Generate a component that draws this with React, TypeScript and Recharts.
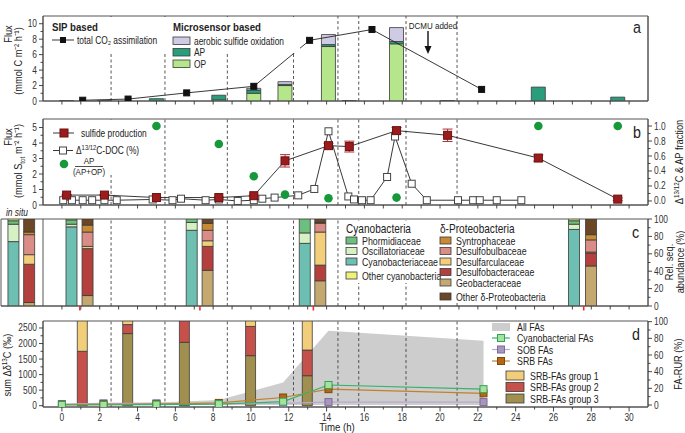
import React from 'react';
import {
  ComposedChart,
  Bar,
  Line,
  Area,
  XAxis,
  YAxis,
  ReferenceLine,
  ReferenceArea,
  ErrorBar,
} from 'recharts';

const FONT = "'Liberation Sans Narrow', 'Liberation Sans', Arial, sans-serif";
const NARROW = 0.84; // the figure uses a condensed face; squeeze text horizontally
const INK = '#333';
const FRAME = '#555';
const DASH = '#444';

const W = 685;
const H = 433;
const AXIS_L = 43;
const AXIS_R = 37;
const X_MIN = -1;
const X_MAX = 31;
const PX_PER_H = (W - AXIS_L - AXIS_R) / (X_MAX - X_MIN);
// panel c has an extra "in situ" strip left of the time axis
const C_X_MIN = X_MIN - (AXIS_L - 1) / PX_PER_H;

const HOURS = Array.from({ length: 31 }, (_, i) => i);

// light regime along the top
const LIGHT_EDGES = [-1, 2.6, 5.45, 8.75, 12.25, 14.6, 15.7, 18.2, 20.9, 31];
const LIGHT_LABELS = ['dark', 'I=7', 'I=19', 'I=89', 'I=315', '', 'I=315', '', 'I=315 +DCMU'];
const LIGHT_FILLS = ['#000', '#5e5e5e', '#a8a8a8', '#dcdcdc', '#fff', '#000', '#fff', '#000', '#fff'];
const LIGHT_TEXT = ['#fff', '#e6e6e6', '#222', '#222', '#000', '#fff', '#000', '#fff', '#000'];
const SWITCHES = LIGHT_EDGES.slice(1, -1);

// panel a - microsensor fluxes (mmol C m-2 h-1)
const MS_TIME = [0.25, 2.25, 5.0, 8.3, 10.15, 11.8, 14.1, 15.2, 17.7, 20.4, 25.2, 29.4];
const OP = [0.06, 0.06, 0, 0.15, 1.0, 2.0, 7.05, 0.06, 7.4, 0.06, 0, 0];
const AP = [0, 0, 0.3, 0.6, 0.42, 0.15, 0.25, 0, 0.3, 0, 1.8, 0.5];
const ASO = [0, 0, 0, 0, 0.22, 0.35, 1.3, 0, 1.8, 0, 0, 0];
// panel a - SIP based
const CO2_TIME = [1.1, 3.5, 6.6, 10.15, 13.1, 16.4, 22.2];
const CO2 = [0.1, 0.25, 1.05, 1.9, 7.85, 9.25, 1.5];

// panel b
const SULFIDE = [0.64, 0.64, 0.48, 0.48, 0.6, 2.85, 3.83, 3.77, 4.8, 4.5, 3.03, 0.38];
const SULFIDE_ERR = [0.04, 0.04, 0.03, 0.03, 0.04, 0.4, 0.15, 0.35, 0.2, 0.4, 0.2, 0.08];
const APF_TIME = [5.0, 8.3, 10.15, 11.8, 14.1, 17.7, 25.2, 29.4];
const APF = [1.0, 0.76, 0.33, 0.085, 0.036, 0.045, 1.0, 1.0];
const DOC_TIME = [
  0.07, 0.53, 1.1, 1.6, 2.25, 2.9, 4.8, 5.85, 6.3, 7.6, 8.3, 9.3, 10.15, 10.6, 11.25, 12.5,
  13.35, 14.1, 15.15, 15.45, 15.87, 16.33, 17.2, 17.62, 18.5, 19.3, 20.95, 21.75, 22.1, 23.0, 24.3,
];
const DOC = [
  0.01, 0.01, 0.01, 0.01, 0.01, 0.01, 0.02, 0.01, 0.03, 0.01, 0.02, 0.0, 0.01, 0.03, 0.045, 0.075,
  0.16, 0.93, 0.06, 0.02, 0.01, 0.01, 0.32, 0.86, 0.23, 0.01, 0.01, 0.01, 0.01, 0.01, 0.01,
];

// panel c - relative sequence abundance (%)
const IN_SITU = [-2.55, -1.72];
const CYANO_TIME = [IN_SITU[0], 0.52, 6.88, 12.86, 27.1];
const DELTA_TIME = [IN_SITU[1], 1.37, 7.72, 13.68, 28.0];
const CYANOBACTERIACEAE = [74, 91, 87, 72, 88];
const OSCILLATORIACEAE = [20, 3, 9, 12, 6];
const PHORMIDIACEAE = [4, 5, 4, 16, 4];
const OTHER_CYANO = [2, 1, 0, 0, 2];
const GEOBACTERACEAE = [4, 12, 41, 29, 46];
const DESULFOBACTERACEAE = [44, 54, 27.5, 18, 15];
const DESULFARCULACEAE = [11, 2.5, 6.5, 38, 1];
const DESULFOBULBACEAE = [23, 16.5, 12, 10, 14];
const SYNTROPHACEAE = [3, 8, 8, 1, 6];
const OTHER_DELTA = [15, 7, 5, 4, 18];
const SAMPLING_MARKS = [0.95, 7.3, 13.3, 27.6];

// panel d
const SIP_TIME = [1.1, 3.5, 6.5, 10.0, 13.0];
const SRB_G1 = [1500, 200, 0, 200, 1000];
const SRB_G2 = [1750, 290, 800, 940, 825];
const SRB_G3 = [0, 2320, 2040, 1610, 965];
const FA_TIME = [0, 2.2, 5.0, 8.3, 11.7, 14.1, 22.3];
const ALL_FA = [1, 2, 3, 6, 27, 89, 77];
const CYANO_FA = [0, 0, 0.5, 1, 4, 24, 19];
const SOB_FA = [1, 2, 2, 1.5, 2, 3.5, 3.5];
const SRB_FA = [0.5, 0.8, 1, 2.5, 9, 19, 14];

const COL = {
  op: '#b6e68c',
  ap: '#2a9e7c',
  aso: '#cfcbe4',
  sulfide: '#9b1c1c',
  apf: '#17993b',
  phorm: '#6cbf7c',
  osc: '#d6f1c4',
  cyb: '#6dbfb2',
  otherCy: '#eef27c',
  syn: '#c98a35',
  dbulb: '#d98d86',
  darc: '#f3cf7c',
  dbact: '#b4403e',
  geo: '#c4a870',
  otherD: '#6b4727',
  g1: '#f2cd7a',
  g2: '#c5514a',
  g3: '#a08f4f',
  allFa: '#cdcdcd',
  cyFa: '#35b36b',
  sobFa: '#b8a8cd',
  srbFa: '#c47f2e',
};

type Row = { t: number; [k: string]: number | undefined };
function merge(series: { key: string; t: number[]; v: number[] }[]): Row[] {
  const map = new Map<number, Row>();
  series.forEach(({ key, t, v }) =>
    t.forEach((time, i) => {
      const row = map.get(time) ?? { t: time };
      row[key] = v[i];
      map.set(time, row);
    }),
  );
  return [...map.values()].sort((p, q) => p.t - q.t);
}

const rowsA = merge([
  { key: 'op', t: MS_TIME, v: OP },
  { key: 'ap', t: MS_TIME, v: AP },
  { key: 'aso', t: MS_TIME, v: ASO },
  { key: 'co2', t: CO2_TIME, v: CO2 },
]);
const rowsB = merge([
  { key: 'sulfide', t: MS_TIME, v: SULFIDE },
  { key: 'sErr', t: MS_TIME, v: SULFIDE_ERR },
  { key: 'apf', t: APF_TIME, v: APF },
  { key: 'doc', t: DOC_TIME, v: DOC },
]);
const rowsC = merge([
  { key: 'cyb', t: CYANO_TIME, v: CYANOBACTERIACEAE },
  { key: 'osc', t: CYANO_TIME, v: OSCILLATORIACEAE },
  { key: 'phorm', t: CYANO_TIME, v: PHORMIDIACEAE },
  { key: 'otherCy', t: CYANO_TIME, v: OTHER_CYANO },
  { key: 'geo', t: DELTA_TIME, v: GEOBACTERACEAE },
  { key: 'dbact', t: DELTA_TIME, v: DESULFOBACTERACEAE },
  { key: 'darc', t: DELTA_TIME, v: DESULFARCULACEAE },
  { key: 'dbulb', t: DELTA_TIME, v: DESULFOBULBACEAE },
  { key: 'syn', t: DELTA_TIME, v: SYNTROPHACEAE },
  { key: 'otherD', t: DELTA_TIME, v: OTHER_DELTA },
]);
const rowsD = merge([
  { key: 'g3', t: SIP_TIME, v: SRB_G3 },
  { key: 'g2', t: SIP_TIME, v: SRB_G2 },
  { key: 'g1', t: SIP_TIME, v: SRB_G1 },
  { key: 'allFa', t: FA_TIME, v: ALL_FA },
  { key: 'cyFa', t: FA_TIME, v: CYANO_FA },
  { key: 'sobFa', t: FA_TIME, v: SOB_FA },
  { key: 'srbFa', t: FA_TIME, v: SRB_FA },
]);
const rowsTop = LIGHT_EDGES.map((t) => ({ t }));

// layout
const TOPBAR = { top: 1, h: 15 };
const PA = { top: 16, h: 85 };
const PB = { top: 119, h: 86 };
const PC = { top: 219, h: 87 };
const PD = { top: 321, h: 86 };
const PAD = 8;

const A_DOM: [number, number] = [0, 11];
const B_LDOM: [number, number] = [0, 5.55];
const B_RDOM: [number, number] = [-0.054, 1.094];
const C_DOM: [number, number] = [0, 100];
const D_LDOM: [number, number] = [-42, 2725];
const D_RDOM: [number, number] = [-2.4, 100.8];

// condensed text: squeezed around its anchor point, optionally rotated
function NT({
  x, y, size = 10, anchor = 'start', rotate = 0, weight, italic, fill = '#222', children,
}: {
  x: number; y: number; size?: number; anchor?: 'start' | 'middle' | 'end'; rotate?: number;
  weight?: string; italic?: boolean; fill?: string; children: React.ReactNode;
}) {
  return (
    <text
      transform={`translate(${x} ${y}) rotate(${rotate}) scale(${NARROW} 1)`}
      textAnchor={anchor}
      fontSize={size}
      fontWeight={weight}
      fontStyle={italic ? 'italic' : undefined}
      fontFamily={FONT}
      fill={fill}
    >
      {children}
    </text>
  );
}

const xTick = (labelled: boolean, marks: number[] = []) => (p: any) => {
  const v = p.payload.value;
  const red = marks.includes(v);
  const major = v % 2 === 0;
  const len = red ? 4.5 : labelled ? (major ? 4.5 : 2.5) : 3.5;
  return (
    <g>
      <line x1={p.x} x2={p.x} y1={p.y} y2={p.y + len} stroke={red ? '#e3322b' : INK} strokeWidth={red ? 1.6 : 0.9} />
      {labelled && major && !red && (
        <NT x={p.x} y={p.y + 14} anchor="middle" fill={INK}>
          {v}
        </NT>
      )}
    </g>
  );
};

const yTick = (side: 'left' | 'right', isMajor: (v: number) => boolean, fmt: (v: number) => string) => (p: any) => {
  const v = p.payload.value;
  const major = isMajor(v);
  const dir = side === 'left' ? -1 : 1;
  return (
    <g>
      <line x1={p.x} x2={p.x + dir * (major ? 4 : 2.5)} y1={p.y} y2={p.y} stroke={INK} strokeWidth={0.9} />
      {major && (
        <NT x={p.x + dir * 6} y={p.y + 3.5} anchor={side === 'left' ? 'end' : 'start'} fill={INK}>
          {fmt(v)}
        </NT>
      )}
    </g>
  );
};

const square = (size: number, fill: string, stroke: string) => (p: any) => {
  if (p.cx == null || p.cy == null || p.value == null) return null;
  return (
    <rect
      key={`sq-${p.index}`}
      x={p.cx - size / 2}
      y={p.cy - size / 2}
      width={size}
      height={size}
      fill={fill}
      stroke={stroke}
      strokeWidth={1}
    />
  );
};

const circle = (r: number, fill: string) => (p: any) => {
  if (p.cx == null || p.cy == null || p.value == null) return null;
  return <circle key={`c-${p.index}`} cx={p.cx} cy={p.cy} r={r} fill={fill} />;
};

const dashed = SWITCHES.map((s) => (
  <ReferenceLine key={`sw-${s}`} x={s} stroke={DASH} strokeDasharray="3 2.5" strokeWidth={0.9} />
));

const box = (x0: number, dom: [number, number]) => (
  <ReferenceArea x1={x0} x2={X_MAX} y1={dom[0]} y2={dom[1]} fill="none" stroke={FRAME} strokeWidth={1} />
);

const barStroke = { stroke: '#3a3a3a', strokeWidth: 0.8 };

function TopBar() {
  return (
    <div style={{ position: 'absolute', left: 0, top: 0 }}>
      <ComposedChart width={W} height={TOPBAR.top + TOPBAR.h + 1} data={rowsTop} margin={{ top: TOPBAR.top, right: AXIS_R, bottom: 1, left: AXIS_L }}>
        <XAxis type="number" dataKey="t" domain={[X_MIN, X_MAX]} allowDataOverflow hide />
        <YAxis domain={[0, 1]} hide />
        {LIGHT_LABELS.map((lab, i) => (
          <ReferenceArea
            key={`l-${i}`}
            x1={LIGHT_EDGES[i]}
            x2={LIGHT_EDGES[i + 1]}
            y1={0}
            y2={1}
            fill={LIGHT_FILLS[i]}
            fillOpacity={1}
            stroke="#000"
            strokeWidth={1}
            label={{ value: lab, position: 'center', fill: LIGHT_TEXT[i], fontSize: 10, fontFamily: FONT }}
          />
        ))}
      </ComposedChart>
    </div>
  );
}

function PanelA() {
  return (
    <div style={{ position: 'absolute', left: 0, top: PA.top - PAD }}>
      <ComposedChart width={W} height={PAD + PA.h + 8} data={rowsA} margin={{ top: PAD, right: 0, bottom: 0, left: 0 }}>
        <XAxis type="number" dataKey="t" domain={[X_MIN, X_MAX]} allowDataOverflow ticks={HOURS} interval={0} tickSize={0} tickMargin={0} tick={xTick(false)} axisLine={{ stroke: FRAME }} height={8} />
        <YAxis width={AXIS_L} domain={A_DOM} allowDataOverflow ticks={[0, 1, 2, 3, 4, 5, 6, 7, 8, 9, 10]} interval={0} tickSize={0} tickMargin={0} tick={yTick('left', (v) => v % 2 === 0, String)} axisLine={{ stroke: FRAME }} />
        <YAxis yAxisId="r" orientation="right" width={AXIS_R} domain={[0, 1]} tick={false} tickLine={false} axisLine={{ stroke: FRAME }} />
        {box(X_MIN, A_DOM)}
        {dashed}
        <Bar dataKey="op" stackId="a" fill={COL.op} {...barStroke} barSize={14} isAnimationActive={false} />
        <Bar dataKey="ap" stackId="a" fill={COL.ap} {...barStroke} barSize={14} isAnimationActive={false} />
        <Bar dataKey="aso" stackId="a" fill={COL.aso} {...barStroke} barSize={14} isAnimationActive={false} />
        <Line dataKey="co2" type="linear" connectNulls stroke="#222" strokeWidth={0.9} dot={square(6, '#111', '#111')} activeDot={false} isAnimationActive={false} />
      </ComposedChart>
    </div>
  );
}

function PanelB() {
  return (
    <div style={{ position: 'absolute', left: 0, top: PB.top - PAD }}>
      <ComposedChart width={W} height={PAD + PB.h + 8} data={rowsB} margin={{ top: PAD, right: 0, bottom: 0, left: 0 }}>
        <XAxis type="number" dataKey="t" domain={[X_MIN, X_MAX]} allowDataOverflow ticks={HOURS} interval={0} tickSize={0} tickMargin={0} tick={xTick(false)} axisLine={{ stroke: FRAME }} height={8} />
        <YAxis width={AXIS_L} domain={B_LDOM} allowDataOverflow ticks={[0, 0.5, 1, 1.5, 2, 2.5, 3, 3.5, 4, 4.5, 5]} interval={0} tickSize={0} tickMargin={0} tick={yTick('left', (v) => Number.isInteger(v), String)} axisLine={{ stroke: FRAME }} />
        <YAxis yAxisId="r" orientation="right" width={AXIS_R} domain={B_RDOM} allowDataOverflow ticks={[0, 0.1, 0.2, 0.3, 0.4, 0.5, 0.6, 0.7, 0.8, 0.9, 1.0]} interval={0} tickSize={0} tickMargin={0} tick={yTick('right', (v) => Math.round(v * 10) % 2 === 0, (v) => v.toFixed(1))} axisLine={{ stroke: FRAME }} />
        {box(X_MIN, B_LDOM)}
        {dashed}
        <Line yAxisId="r" dataKey="doc" type="linear" connectNulls stroke="#222" strokeWidth={0.9} dot={square(7, '#fff', '#444')} activeDot={false} isAnimationActive={false} />
        <Line dataKey="sulfide" type="linear" connectNulls stroke="#222" strokeWidth={0.9} dot={square(8, COL.sulfide, '#6d1010')} activeDot={false} isAnimationActive={false}>
          <ErrorBar dataKey="sErr" width={5} stroke="#b03030" strokeWidth={1} direction="y" />
        </Line>
        <Line yAxisId="r" dataKey="apf" type="linear" stroke="none" dot={circle(4.3, COL.apf)} activeDot={false} isAnimationActive={false} />
      </ComposedChart>
    </div>
  );
}

function PanelC() {
  const bar = (key: keyof typeof COL) => (
    <Bar key={key} dataKey={key} stackId="c" fill={COL[key]} {...barStroke} barSize={11} isAnimationActive={false} />
  );
  return (
    <div style={{ position: 'absolute', left: 0, top: PC.top - PAD }}>
      <ComposedChart width={W} height={PAD + PC.h + 8} data={rowsC} margin={{ top: PAD, right: 0, bottom: 0, left: 1 }}>
        <XAxis type="number" dataKey="t" domain={[C_X_MIN, X_MAX]} allowDataOverflow ticks={[...HOURS, ...SAMPLING_MARKS]} interval={0} tickSize={0} tickMargin={0} tick={xTick(false, SAMPLING_MARKS)} axisLine={{ stroke: FRAME }} height={8} />
        <YAxis orientation="right" width={AXIS_R} domain={C_DOM} allowDataOverflow ticks={[0, 10, 20, 30, 40, 50, 60, 70, 80, 90, 100]} interval={0} tickSize={0} tickMargin={0} tick={yTick('right', (v) => v % 20 === 0, String)} axisLine={{ stroke: FRAME }} />
        {box(C_X_MIN, C_DOM)}
        <ReferenceLine x={X_MIN} stroke={FRAME} strokeWidth={1} />
        {dashed}
        {bar('cyb')}
        {bar('osc')}
        {bar('phorm')}
        {bar('otherCy')}
        {bar('geo')}
        {bar('dbact')}
        {bar('darc')}
        {bar('dbulb')}
        {bar('syn')}
        {bar('otherD')}
      </ComposedChart>
    </div>
  );
}

function PanelD() {
  return (
    <div style={{ position: 'absolute', left: 0, top: PD.top - PAD }}>
      <ComposedChart width={W} height={PAD + PD.h + 26} data={rowsD} margin={{ top: PAD, right: 0, bottom: 0, left: 0 }}>
        <XAxis
          type="number"
          dataKey="t"
          domain={[X_MIN, X_MAX]}
          allowDataOverflow
          ticks={HOURS}
          interval={0}
          tickSize={0}
          tickMargin={0}
          tick={xTick(true)}
          axisLine={{ stroke: FRAME }}
          height={26}
        />
        <YAxis width={AXIS_L} domain={D_LDOM} allowDataOverflow ticks={[0, 250, 500, 750, 1000, 1250, 1500, 1750, 2000, 2250, 2500]} interval={0} tickSize={0} tickMargin={0} tick={yTick('left', (v) => v % 500 === 0, String)} axisLine={{ stroke: FRAME }} />
        <YAxis yAxisId="r" orientation="right" width={AXIS_R} domain={D_RDOM} allowDataOverflow ticks={[0, 10, 20, 30, 40, 50, 60, 70, 80, 90, 100]} interval={0} tickSize={0} tickMargin={0} tick={yTick('right', (v) => v % 20 === 0, String)} axisLine={{ stroke: FRAME }} />
        <Area yAxisId="r" dataKey="allFa" type="linear" connectNulls fill={COL.allFa} fillOpacity={1} stroke="none" activeDot={false} isAnimationActive={false} />
        {box(X_MIN, D_LDOM)}
        {dashed}
        <Bar dataKey="g3" stackId="d" fill={COL.g3} {...barStroke} barSize={10} isAnimationActive={false} />
        <Bar dataKey="g2" stackId="d" fill={COL.g2} {...barStroke} barSize={10} isAnimationActive={false} />
        <Bar dataKey="g1" stackId="d" fill={COL.g1} {...barStroke} barSize={10} isAnimationActive={false} />
        <Line yAxisId="r" dataKey="sobFa" type="linear" connectNulls stroke={COL.sobFa} strokeWidth={1.2} dot={square(7, '#a796be', '#7d6a98')} activeDot={false} isAnimationActive={false} />
        <Line yAxisId="r" dataKey="srbFa" type="linear" connectNulls stroke={COL.srbFa} strokeWidth={1.2} dot={square(7, '#b8660f', '#7a4a10')} activeDot={false} isAnimationActive={false} />
        <Line yAxisId="r" dataKey="cyFa" type="linear" connectNulls stroke={COL.cyFa} strokeWidth={1.2} dot={square(7, '#a6e39a', '#34a060')} activeDot={false} isAnimationActive={false} />
      </ComposedChart>
    </div>
  );
}

function LegendBox({ x, y, w, h, fill }: { x: number; y: number; w: number; h: number; fill: string }) {
  return <rect x={x} y={y} width={w} height={h} fill={fill} stroke="#3a3a3a" strokeWidth={0.8} />;
}

const C_LEG_CYANO: [string, string][] = [
  ['Phormidiaceae', COL.phorm],
  ['Oscillatoriaceae', COL.osc],
  ['Cyanobacteriaceae', COL.cyb],
];
const C_LEG_DELTA: [string, string][] = [
  ['Syntrophaceae', COL.syn],
  ['Desulfobulbaceae', COL.dbulb],
  ['Desulfarculaceae', COL.darc],
  ['Desulfobacteraceae', COL.dbact],
  ['Geobacteraceae', COL.geo],
];

function Overlay() {
  return (
    <svg width={W} height={H} style={{ position: 'absolute', left: 0, top: 0, pointerEvents: 'none' }}>
      {/* panel a */}
      <rect x={44} y={17} width={256} height={36} fill="#fff" />
      <NT x={52} y={31} size={11.5} weight="bold">SIP based</NT>
      <line x1={52} x2={74} y1={40} y2={40} stroke="#222" strokeWidth={0.9} />
      <rect x={60} y={37} width={6} height={6} fill="#111" />
      <NT x={77} y={43.5}>total CO₂ assimilation</NT>
      <NT x={173} y={31} size={11.5} weight="bold">Microsensor based</NT>
      <LegendBox x={173} y={37} w={17} h={7.5} fill={COL.aso} />
      <NT x={194} y={44.5}>aerobic sulfide oxidation</NT>
      <LegendBox x={173} y={48.5} w={17} h={7.5} fill={COL.ap} />
      <NT x={194} y={56}>AP</NT>
      <LegendBox x={173} y={60} w={17} h={7.5} fill={COL.op} />
      <NT x={194} y={67.5}>OP</NT>
      <NT x={633} y={33} size={17}>a</NT>
      <NT x={433} y={29} size={9.5} anchor="middle">DCMU added</NT>
      <line x1={428} x2={428} y1={31} y2={49} stroke="#111" strokeWidth={1.4} />
      <polygon points="424.5,46 431.5,46 428,54" fill="#111" />
      <NT x={11.5} y={34} size={11} anchor="middle" rotate={-90}>Flux</NT>
      <NT x={22} y={61} size={11} anchor="middle" rotate={-90}>(mmol C m⁻² h⁻¹)</NT>

      {/* panel b */}
      <rect x={44} y={120} width={106} height={55} fill="#fff" />
      <line x1={53} x2={74} y1={133} y2={133} stroke="#222" strokeWidth={0.9} />
      <rect x={60} y={129} width={8} height={8} fill={COL.sulfide} stroke="#6d1010" />
      <NT x={81} y={136.5}>sulfide production</NT>
      <line x1={53} x2={73} y1={150.5} y2={150.5} stroke="#222" strokeWidth={0.9} />
      <rect x={59.5} y={147} width={7} height={7} fill="#fff" stroke="#444" />
      <NT x={76} y={154}>
        Δ<tspan dy={-4} fontSize={7}>13/12</tspan>
        <tspan dy={4}>C-DOC (%)</tspan>
      </NT>
      <circle cx={64} cy={164} r={4.3} fill={COL.apf} />
      <NT x={89} y={164} size={9.5} anchor="middle">AP</NT>
      <line x1={75} x2={103} y1={166.5} y2={166.5} stroke="#222" strokeWidth={0.8} />
      <NT x={89} y={175} size={9.5} anchor="middle">(AP+OP)</NT>
      <NT x={633} y={138} size={17}>b</NT>
      <NT x={11.5} y={137} size={11} anchor="middle" rotate={-90}>Flux</NT>
      <NT x={22} y={161} size={11} anchor="middle" rotate={-90}>
        (mmol S<tspan dy={2.5} fontSize={7.5}>tot</tspan>
        <tspan dy={-2.5}> m⁻² h⁻¹)</tspan>
      </NT>
      <NT x={683} y={162} size={11} anchor="middle" rotate={-90}>
        Δ<tspan dy={-4} fontSize={7.5}>13/12</tspan>
        <tspan dy={4}>C &amp; AP fraction</tspan>
      </NT>

      {/* panel c */}
      <rect x={344} y={221} width={211} height={62} fill="#fff" />
      <rect x={438} y={283} width={117} height={20} fill="#fff" />
      <NT x={6} y={216} italic>in situ</NT>
      <NT x={346} y={233} size={12}>Cyanobacteria</NT>
      {C_LEG_CYANO.map(([name, fill], i) => (
        <g key={name}>
          <LegendBox x={346} y={237 + i * 10.5} w={11} h={7} fill={fill} />
          <NT x={362} y={244.5 + i * 10.5} size={10.5}>{name}</NT>
        </g>
      ))}
      <LegendBox x={346} y={272} w={11} h={7} fill={COL.otherCy} />
      <NT x={362} y={279.5} size={10.5}>Other cyanobacteria</NT>
      <NT x={440} y={233} size={12}>δ-Proteobacteria</NT>
      {C_LEG_DELTA.map(([name, fill], i) => (
        <g key={name}>
          <LegendBox x={440} y={237 + i * 10.5} w={11} h={7} fill={fill} />
          <NT x={456} y={244.5 + i * 10.5} size={10.5}>{name}</NT>
        </g>
      ))}
      <LegendBox x={440} y={293} w={11} h={7} fill={COL.otherD} />
      <NT x={456} y={300.5} size={10.5}>Other δ-Proteobacteria</NT>
      <NT x={632} y={238} size={17}>c</NT>
      <NT x={673} y={262} size={11} anchor="middle" rotate={-90}>Rel. seq.</NT>
      <NT x={684} y={262} size={11} anchor="middle" rotate={-90}>abundance (%)</NT>

      {/* panel d */}
      <rect x={492} y={323} width={18} height={8} fill={COL.allFa} />
      <NT x={517} y={331} size={10.5}>All FAs</NT>
      <line x1={492} x2={510} y1={338} y2={338} stroke={COL.cyFa} strokeWidth={1.2} />
      <rect x={497.5} y={334.5} width={7} height={7} fill="#a6e39a" stroke="#34a060" />
      <NT x={517} y={342} size={10.5}>Cyanobacterial FAs</NT>
      <line x1={492} x2={510} y1={349.5} y2={349.5} stroke={COL.sobFa} strokeWidth={1.2} />
      <rect x={497.5} y={346} width={7} height={7} fill="#a796be" stroke="#7d6a98" />
      <NT x={517} y={353.5} size={10.5}>SOB FAs</NT>
      <line x1={492} x2={510} y1={361} y2={361} stroke={COL.srbFa} strokeWidth={1.2} />
      <rect x={497.5} y={357.5} width={7} height={7} fill="#b8660f" stroke="#7a4a10" />
      <NT x={517} y={365} size={10.5}>SRB FAs</NT>
      <LegendBox x={506} y={371} w={18} h={9} fill={COL.g1} />
      <NT x={530} y={379.5} size={10.5}>SRB-FAs group 1</NT>
      <LegendBox x={506} y={382.5} w={18} h={9} fill={COL.g2} />
      <NT x={530} y={391} size={10.5}>SRB-FAs group 2</NT>
      <LegendBox x={506} y={394} w={18} h={9} fill={COL.g3} />
      <NT x={530} y={402.5} size={10.5}>SRB-FAs group 3</NT>
      <NT x={632} y={340} size={17}>d</NT>
      <NT x={11} y={365} size={11} anchor="middle" rotate={-90}>
        sum Δδ<tspan dy={-4} fontSize={7.5}>13</tspan>
        <tspan dy={4}>C (‰)</tspan>
      </NT>
      <NT x={682} y={364} size={11} anchor="middle" rotate={-90}>FA-RUR (%)</NT>
      <NT x={337} y={431} size={11.5} anchor="middle">Time (h)</NT>
    </svg>
  );
}

export default function App() {
  return (
    <div style={{ position: 'absolute', left: 0, top: 0, width: W, height: H, background: '#fff', fontFamily: FONT }}>
      <TopBar />
      <PanelA />
      <PanelB />
      <PanelC />
      <PanelD />
      <Overlay />
    </div>
  );
}
